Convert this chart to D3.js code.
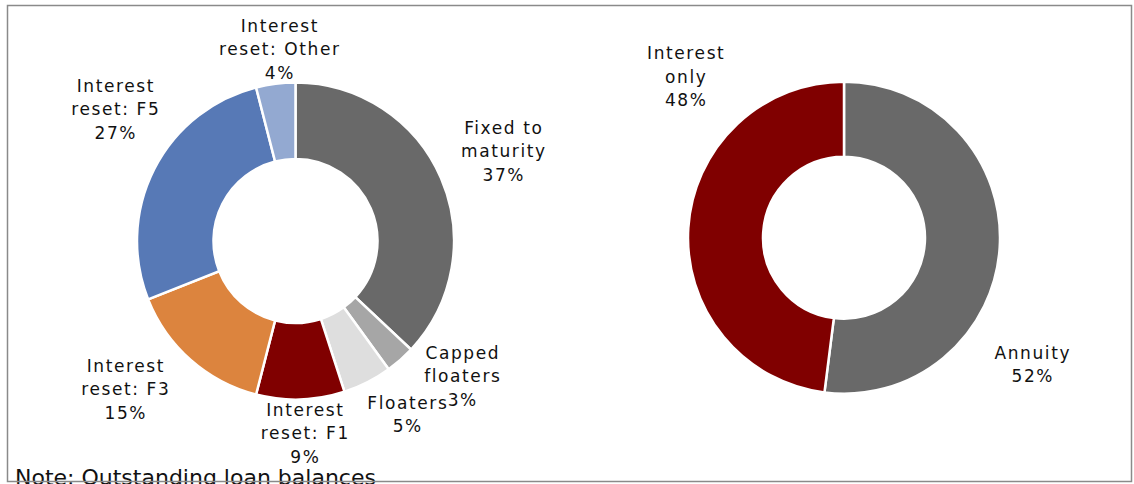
<!DOCTYPE html>
<html>
<head>
<meta charset="utf-8">
<script src="https://cdn.jsdelivr.net/npm/d3@7"></script>
<style>
  html, body { margin: 0; padding: 0; background: #fff; }
  svg { display: block; }
  text { font-family: "DejaVu Sans", Verdana, sans-serif; fill: #111; }
</style>
</head>
<body>
<svg id="chart" width="1134" height="484"></svg>
<script>
// ---- Data ----
const rateCategories = ["Fixed to maturity", "Capped floaters", "Floaters", "Interest reset: F1", "Interest reset: F3", "Interest reset: F5", "Interest reset: Other"];
const rateValues = [37, 3, 5, 9, 15, 27, 4];
const rateLabelLines = [["Fixed to", "maturity"], ["Capped", "floaters"], ["Floaters"], ["Interest", "reset: F1"], ["Interest", "reset: F3"], ["Interest", "reset: F5"], ["Interest", "reset: Other"]];

const repayCategories = ["Annuity", "Interest only"];
const repayValues = [52, 48];
const repayLabelLines = [["Annuity"], ["Interest", "only"]];

const noteText = "Note: Outstanding loan balances";

// ---- Styles / layout ----
const rateColors = ["#696969", "#a6a6a6", "#dedede", "#800000", "#dc843e", "#5779b6", "#93a9d1"];
const repayColors = ["#696969", "#800000"];
// label offsets (first baseline) relative to donut centre
const rateLabelPos = [[207.5, -107], [166.5, 118], [111.5, 168], [9, 175], [-170.5, 131], [-180.5, -149], [-16.5, -209]];
const repayLabelPos = [[188, 121], [-158.6, -178.5]];

const svg = d3.select("#chart");
const lineH = 23.3;

function donut(cx, cy, rOuter, rInner, cats, vals, colors, lines, pos) {
  const data = cats.map((c, i) => ({ cat: c, value: vals[i], i }));
  const pie = d3.pie().value(d => d.value).sort(null).startAngle(0).endAngle(2 * Math.PI);
  const arc = d3.arc().innerRadius(rInner).outerRadius(rOuter);
  const g = svg.append("g").attr("transform", `translate(${cx},${cy})`);
  g.selectAll("path").data(pie(data)).join("path")
    .attr("d", arc)
    .attr("fill", d => colors[d.data.i])
    .attr("stroke", "#fff")
    .attr("stroke-width", 2.5)
    .attr("stroke-linejoin", "miter");
  const total = d3.sum(vals);
  const fmt = d3.format(".0%");
  const lab = g.selectAll("text.lab").data(data).join("text")
    .attr("class", "lab")
    .attr("text-anchor", "middle")
    .attr("font-size", 17)
    .attr("letter-spacing", "1.6px");
  lab.each(function(d) {
    const t = d3.select(this);
    const ls = lines[d.i].concat([fmt(d.value / total)]);
    const [dx, dy] = pos[d.i];
    ls.forEach((s, k) => {
      t.append("tspan").attr("x", dx + 0.8).attr("y", dy + k * lineH).text(s);
    });
  });
}

donut(295.5, 241, 158.5, 82, rateCategories, rateValues, rateColors, rateLabelLines, rateLabelPos);
donut(844, 237.7, 156, 81, repayCategories, repayValues, repayColors, repayLabelLines, repayLabelPos);

svg.append("text")
  .attr("x", 15).attr("y", 485)
  .attr("font-size", 22)
  .text(noteText);

// frame
svg.append("rect")
  .attr("x", 7.5).attr("y", 5.5)
  .attr("width", 1124).attr("height", 476)
  .attr("fill", "none")
  .attr("stroke", "#8a8a8a")
  .attr("stroke-width", 1.5);
</script>
</body>
</html>
